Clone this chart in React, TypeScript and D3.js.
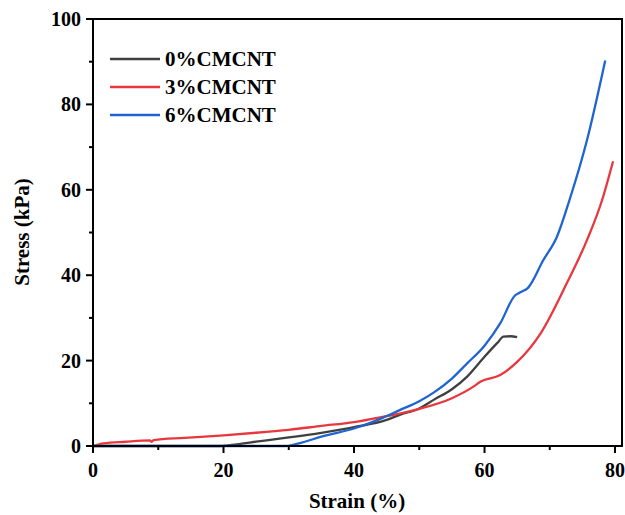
import React from "react";
import * as d3 from "d3";

const xTicks = [0, 20, 40, 60, 80];
const xMinor = [10, 30, 50, 70];
const yTicks = [0, 20, 40, 60, 80, 100];
const yMinor = [10, 30, 50, 70, 90];

const seriesNames = ["0%CMCNT", "3%CMCNT", "6%CMCNT"];
const seriesColors = ["#404040", "#e8383d", "#1f64d0"];

const black: [number, number][] = [
  [0, 0], [19.5, 0], [22, 0.4], [25, 1.0], [30, 2.0], [35, 3.1], [40, 4.4], [45, 6.1],
  [47, 7.3], [50, 8.8], [52.2, 10.8], [55, 13.3], [57.3, 16.2], [60, 20.9], [62, 24.2],
  [62.9, 25.6], [64, 25.7], [65, 25.5],
];
const red: [number, number][] = [
  [0, 0], [1.6, 0.6], [5, 1.0], [8.7, 1.3], [9, 1.0], [9.3, 1.4], [14, 1.9], [20, 2.5],
  [25, 3.1], [30, 3.8], [35, 4.7], [40, 5.6], [45, 7.0], [47, 7.6], [50, 8.7], [55, 11.2],
  [58.3, 13.9], [59.3, 15.0], [62.4, 16.6], [65, 19.7], [68.6, 26.4], [72.6, 38.1],
  [75.7, 48.2], [78, 57.5], [79.7, 66.7],
];
const blue: [number, number][] = [
  [0, 0], [29.5, 0], [32, 0.8], [35, 2.2], [40, 4.1], [44.4, 6.6], [47, 8.4], [50, 10.5],
  [52.2, 12.5], [55, 15.8], [57.3, 19.3], [60, 23.5], [62.4, 28.7], [64.7, 35.3], [65.5, 36.0],
  [66.7, 37.1], [69, 43.5], [71.1, 49.0], [73, 57.5], [75.7, 71.6], [78.5, 90.3],
];
const seriesData = [black, red, blue];

export default function App() {
  const left = 93, right = 622, top = 19, bottom = 446;
  const x = d3.scaleLinear().domain([0, 81.07]).range([left, right]);
  const y = d3.scaleLinear().domain([0, 100]).range([bottom, top]);
  const line = d3
    .line<[number, number]>()
    .x((d) => x(d[0]))
    .y((d) => y(d[1]))
    .curve(d3.curveMonotoneX);
  const font = "'Liberation Serif', 'Times New Roman', serif";
  return (
    <svg width={625} height={515} style={{ position: "absolute", left: 0, top: 0 }}>
      <rect width={625} height={515} fill="#fff" />
      {seriesData.map((d, i) => (
        <path key={i} d={line(d) || ""} fill="none" stroke={seriesColors[i]} strokeWidth={2.3} strokeLinejoin="round" />
      ))}
      <rect x={left} y={top} width={right - left} height={bottom - top} fill="none" stroke="#000" strokeWidth={2} />
      {xTicks.map((t) => (
        <g key={"x" + t}>
          <line x1={x(t)} x2={x(t)} y1={bottom} y2={bottom + 7} stroke="#000" strokeWidth={2} />
          <text x={x(t)} y={477} textAnchor="middle" fontFamily={font} fontWeight="bold" fontSize={20}>{t}</text>
        </g>
      ))}
      {xMinor.map((t) => (
        <line key={"xm" + t} x1={x(t)} x2={x(t)} y1={bottom} y2={bottom + 4} stroke="#000" strokeWidth={2} />
      ))}
      {yTicks.map((t) => (
        <g key={"y" + t}>
          <line x1={left - 7} x2={left} y1={y(t)} y2={y(t)} stroke="#000" strokeWidth={2} />
          <text x={81} y={y(t) + 7} textAnchor="end" fontFamily={font} fontWeight="bold" fontSize={20}>{t}</text>
        </g>
      ))}
      {yMinor.map((t) => (
        <line key={"ym" + t} x1={left - 4} x2={left} y1={y(t)} y2={y(t)} stroke="#000" strokeWidth={2} />
      ))}
      <text x={357} y={508} textAnchor="middle" fontFamily={font} fontWeight="bold" fontSize={21}>Strain (%)</text>
      <text transform="translate(29,232) rotate(-90)" textAnchor="middle" fontFamily={font} fontWeight="bold" fontSize={21}>Stress (kPa)</text>
      {seriesNames.map((n, i) => (
        <g key={n}>
          <line x1={110} x2={160} y1={59 + i * 28} y2={59 + i * 28} stroke={seriesColors[i]} strokeWidth={2.3} />
          <text x={165} y={66 + i * 28} fontFamily={font} fontWeight="bold" fontSize={21}>{n}</text>
        </g>
      ))}
    </svg>
  );
}
